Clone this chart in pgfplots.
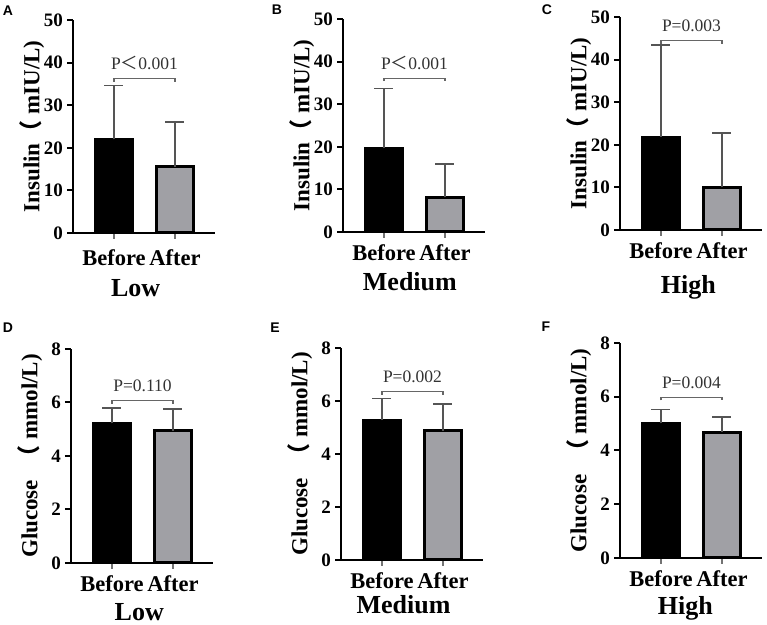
\documentclass[border=0pt]{standalone}
\usepackage{fontspec}
\setmainfont{Liberation Serif}
\newfontfamily\cjk{Noto Sans CJK SC}
\newfontfamily\lsans{Liberation Sans}
\usepackage{pgfplots}
\pgfplotsset{compat=1.18}
\definecolor{barGray}{RGB}{160,160,165}
\definecolor{errGray}{RGB}{85,85,85}
\newcommand\fTick{\fontsize{9.5}{10}\selectfont\bfseries}
\newcommand\fCat{\fontsize{11.25}{12}\selectfont\bfseries}
\newcommand\fGroup{\fontsize{13}{14}\selectfont\bfseries}
\newcommand\fYlab{\fontsize{11.5}{12}\selectfont\bfseries}
\newcommand\fP{\fontsize{8.75}{9}\selectfont}
\newcommand\fLet{\fontsize{7}{8}\selectfont\lsans\bfseries}
\pgfplotsset{
 panel/.style={
   scale only axis, x=30.5pt, xmin=0.328, xmax=2.66, ymin=0,
   axis x line*=bottom, axis y line*=left,
   axis line style={line width=1pt},
   xtick={1,2}, xticklabels={\textbf{Before},\textbf{After}},
   tick align=outside, major tick length=3pt,
   ytick style={line width=1pt,black},
   xtick style={line width=0.6pt,black!55},
   /pgf/number format/assume math mode=true,
   yticklabel={\textbf{\pgfmathprintnumber{\tick}}},
   yticklabel style={font=\fTick, xshift=1.5pt},
   xticklabel style={font=\fCat},
   ylabel style={font=\fYlab, at={([xshift=-20.5pt]axis description cs:0,0.5)}, anchor=center},
   xlabel style={font=\fGroup, anchor=center},
   ybar, bar width=18.25pt, bar shift=0pt,
   clip=false,
 },
 ins/.style={height=106.5pt, ymax=50, ytick={0,10,20,30,40,50}, ylabel={Insulin{\cjk （} mIU/L)}},
 glu/.style={ymax=8, ytick={0,2,4,6,8}, ylabel={Glucose\enspace{\cjk （} mmol/L)}},
 bbefore/.style={fill=black, draw=black, line width=1.5pt,
   error bars/.cd, y dir=plus, y explicit,
   error bar style={errGray, line width=0.8pt},
   error mark options={rotate=90, mark size=4.75pt, errGray, line width=0.8pt}},
 bafter/.style={fill=barGray, draw=black, line width=1.5pt,
   error bars/.cd, y dir=plus, y explicit,
   error bar style={errGray, line width=0.8pt},
   error mark options={rotate=90, mark size=4.75pt, errGray, line width=0.8pt}},
}
\newcommand\bracket[2]{%
  \draw[black!60, line width=0.6pt] ([yshift=-1.5pt]axis cs:1,#1) -- (axis cs:1,#1) -- (axis cs:2,#1) -- ([yshift=-1.5pt]axis cs:2,#1);
  \node[anchor=base, yshift=4.5pt, font=\fP, text=black!80, inner sep=0pt] at (axis cs:1.5,#1) {#2};}
\begin{document}
\begin{tikzpicture}
\useasboundingbox (0,0) rectangle (383.5pt,312.5pt);
% A
\begin{axis}[panel, ins, at={(36.5pt,196pt)}, anchor=south west,
  xlabel={Low}, xlabel style={at={(axis description cs:0.44,0)}, yshift=-27.5pt},
  xticklabel style={yshift=-2pt}]
\addplot[bbefore] coordinates {(1,22.0) +- (0,12.6)};
\addplot[bafter] coordinates {(2,15.6) +- (0,10.5)};
\bracket{36.2}{P{\cjk ＜}0.001}
\end{axis}
% B
\begin{axis}[panel, ins, at={(171.5pt,196.5pt)}, anchor=south west,
  xlabel={Medium}, xlabel style={at={(axis description cs:0.47,0)}, yshift=-25pt}]
\addplot[bbefore] coordinates {(1,19.6) +- (0,14.1)};
\addplot[bafter] coordinates {(2,8.1) +- (0,7.8)};
\bracket{36.1}{P{\cjk ＜}0.001}
\end{axis}
% C
\begin{axis}[panel, ins, at={(310pt,197.5pt)}, anchor=south west,
  xlabel={High}, xlabel style={at={(axis description cs:0.48,0)}, yshift=-28.5pt}]
\addplot[bbefore] coordinates {(1,21.8) +- (0,21.6)};
\addplot[bafter] coordinates {(2,10.0) +- (0,12.7)};
\bracket{44.4}{P=0.003}
\end{axis}
% D
\begin{axis}[panel, glu, height=107pt, at={(35.5pt,31pt)}, anchor=south west,
  xlabel={Low}, xlabel style={at={(axis description cs:0.48,0)}, yshift=-24.5pt}]
\addplot[bbefore] coordinates {(1,5.22) +- (0,0.57)};
\addplot[bafter] coordinates {(2,4.95) +- (0,0.81)};
\bracket{6.06}{P=0.110}
\end{axis}
% E
\begin{axis}[panel, glu, height=106pt, at={(170.5pt,32.5pt)}, anchor=south west,
  xlabel={Medium}, xlabel style={at={(axis description cs:0.44,0)}, yshift=-22.5pt}]
\addplot[bbefore] coordinates {(1,5.28) +- (0,0.82)};
\addplot[bafter] coordinates {(2,4.87) +- (0,1.01)};
\bracket{6.35}{P=0.002}
\end{axis}
% F
\begin{axis}[panel, glu, height=107.5pt, at={(310pt,33.5pt)}, anchor=south west,
  xlabel={High}, xlabel style={at={(axis description cs:0.46,0)}, yshift=-25pt}]
\addplot[bbefore] coordinates {(1,5.01) +- (0,0.52)};
\addplot[bafter] coordinates {(2,4.68) +- (0,0.56)};
\bracket{5.98}{P=0.004}
\end{axis}
\node[font=\fLet] at (4pt,307pt) {A};
\node[font=\fLet] at (138.5pt,307.5pt) {B};
\node[font=\fLet] at (273.5pt,307.5pt) {C};
\node[font=\fLet] at (4pt,148.5pt) {D};
\node[font=\fLet] at (137.5pt,148.5pt) {E};
\node[font=\fLet] at (273pt,149pt) {F};
\end{tikzpicture}
\end{document}
